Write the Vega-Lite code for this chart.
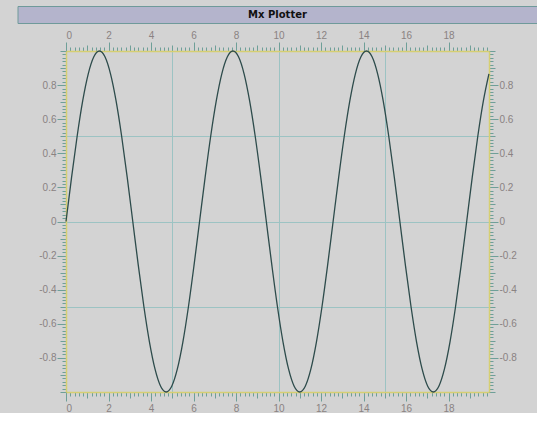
{
  "$schema": "https://vega.github.io/schema/vega-lite/v6.json",
  "background": "#d3d3d3",
  "padding": {"left": 16.5, "top": 5, "right": 0, "bottom": 0},
  "spacing": 28,
  "center": true,
  "bounds": "flush",
  "config": {
    "view": {"stroke": null},
    "axis": {
      "grid": false,
      "tickColor": "#6e9f98",
      "tickWidth": 1,
      "domainColor": "#d6cf72",
      "domainWidth": 1.5,
      "labelColor": "#8a8282",
      "labelFont": "Liberation Sans",
      "labelFontSize": 10,
      "gridColor": "#9cc3c3",
      "gridWidth": 1,
      "gridOpacity": 1
    }
  },
  "vconcat": [
    {
      "width": 520,
      "height": 17,
      "view": {"fill": "#b4b4cc", "stroke": "#6f9a9a", "strokeWidth": 1},
      "data": {"values": [{"name": "Mx Plotter"}]},
      "mark": {"type": "text", "font": "DejaVu Sans", "fontWeight": "bold", "fontSize": 10, "color": "#111111"},
      "encoding": {"text": {"field": "name", "type": "nominal"}}
    },
    {
      "width": 423,
      "height": 341,
      "data": {"values": [
        {"x": 0, "y": 0}, {"x": 0.262, "y": 0.259}, {"x": 0.524, "y": 0.5}, {"x": 0.785, "y": 0.707},
        {"x": 1.047, "y": 0.866}, {"x": 1.309, "y": 0.966}, {"x": 1.571, "y": 1}, {"x": 1.833, "y": 0.966},
        {"x": 2.094, "y": 0.866}, {"x": 2.356, "y": 0.707}, {"x": 2.618, "y": 0.5}, {"x": 2.88, "y": 0.259},
        {"x": 3.142, "y": 0}, {"x": 3.403, "y": -0.259}, {"x": 3.665, "y": -0.5}, {"x": 3.927, "y": -0.707},
        {"x": 4.189, "y": -0.866}, {"x": 4.451, "y": -0.966}, {"x": 4.712, "y": -1}, {"x": 4.974, "y": -0.966},
        {"x": 5.236, "y": -0.866}, {"x": 5.498, "y": -0.707}, {"x": 5.76, "y": -0.5}, {"x": 6.021, "y": -0.259},
        {"x": 6.283, "y": 0}, {"x": 6.545, "y": 0.259}, {"x": 6.807, "y": 0.5}, {"x": 7.069, "y": 0.707},
        {"x": 7.33, "y": 0.866}, {"x": 7.592, "y": 0.966}, {"x": 7.854, "y": 1}, {"x": 8.116, "y": 0.966},
        {"x": 8.378, "y": 0.866}, {"x": 8.639, "y": 0.707}, {"x": 8.901, "y": 0.5}, {"x": 9.163, "y": 0.259},
        {"x": 9.425, "y": 0}, {"x": 9.687, "y": -0.259}, {"x": 9.948, "y": -0.5}, {"x": 10.21, "y": -0.707},
        {"x": 10.472, "y": -0.866}, {"x": 10.734, "y": -0.966}, {"x": 10.996, "y": -1}, {"x": 11.257, "y": -0.966},
        {"x": 11.519, "y": -0.866}, {"x": 11.781, "y": -0.707}, {"x": 12.043, "y": -0.5}, {"x": 12.305, "y": -0.259},
        {"x": 12.566, "y": 0}, {"x": 12.828, "y": 0.259}, {"x": 13.09, "y": 0.5}, {"x": 13.352, "y": 0.707},
        {"x": 13.614, "y": 0.866}, {"x": 13.875, "y": 0.966}, {"x": 14.137, "y": 1}, {"x": 14.399, "y": 0.966},
        {"x": 14.661, "y": 0.866}, {"x": 14.923, "y": 0.707}, {"x": 15.184, "y": 0.5}, {"x": 15.446, "y": 0.259},
        {"x": 15.708, "y": 0}, {"x": 15.97, "y": -0.259}, {"x": 16.232, "y": -0.5}, {"x": 16.493, "y": -0.707},
        {"x": 16.755, "y": -0.866}, {"x": 17.017, "y": -0.966}, {"x": 17.279, "y": -1}, {"x": 17.541, "y": -0.966},
        {"x": 17.802, "y": -0.866}, {"x": 18.064, "y": -0.707}, {"x": 18.326, "y": -0.5}, {"x": 18.588, "y": -0.259},
        {"x": 18.85, "y": 0}, {"x": 19.111, "y": 0.259}, {"x": 19.373, "y": 0.5}, {"x": 19.635, "y": 0.707},
        {"x": 19.897, "y": 0.866}
      ]},
      "layer": [
        {
          "mark": {"type": "line", "opacity": 0},
          "encoding": {
            "x": {"field": "x", "type": "quantitative", "title": null, "scale": {"domain": [0, 19.9], "nice": false, "zero": false},
                  "axis": {"orient": "bottom", "values": [5, 10, 15], "grid": true, "ticks": false, "labels": false, "domain": false}},
            "y": {"field": "y", "type": "quantitative", "title": null, "scale": {"domain": [-1, 1], "nice": false, "zero": false},
                  "axis": {"orient": "left", "values": [-0.5, 0, 0.5], "grid": true, "ticks": false, "labels": false, "domain": false}}
          }
        },
        {
          "mark": {"type": "line", "opacity": 0},
          "encoding": {
            "x": {"field": "x", "type": "quantitative", "title": null,
                  "axis": {"orient": "bottom", "tickCount": 100, "tickSize": 4, "labels": false, "domain": false}},
            "y": {"field": "y", "type": "quantitative", "title": null,
                  "axis": {"orient": "left", "tickCount": 100, "tickSize": 4, "labels": false, "domain": false}}
          }
        },
        {
          "mark": {"type": "line", "opacity": 0},
          "encoding": {
            "x": {"field": "x", "type": "quantitative", "title": null,
                  "axis": {"orient": "top", "tickCount": 100, "tickSize": 4, "labels": false, "domain": false}},
            "y": {"field": "y", "type": "quantitative", "title": null,
                  "axis": {"orient": "right", "tickCount": 100, "tickSize": 4, "labels": false, "domain": false}}
          }
        },
        {
          "mark": {"type": "line", "opacity": 0},
          "encoding": {
            "x": {"field": "x", "type": "quantitative", "title": null,
                  "axis": {"orient": "bottom", "tickCount": 20, "tickSize": 6, "labels": false, "domain": false}},
            "y": {"field": "y", "type": "quantitative", "title": null,
                  "axis": {"orient": "left", "tickCount": 20, "tickSize": 6, "labels": false, "domain": false}}
          }
        },
        {
          "mark": {"type": "line", "opacity": 0},
          "encoding": {
            "x": {"field": "x", "type": "quantitative", "title": null,
                  "axis": {"orient": "top", "tickCount": 20, "tickSize": 6, "labels": false, "domain": false}},
            "y": {"field": "y", "type": "quantitative", "title": null,
                  "axis": {"orient": "right", "tickCount": 20, "tickSize": 6, "labels": false, "domain": false}}
          }
        },
        {
          "mark": {"type": "line", "opacity": 0},
          "encoding": {
            "x": {"field": "x", "type": "quantitative", "title": null,
                  "axis": {"orient": "top", "values": [0, 2, 4, 6, 8, 10, 12, 14, 16, 18], "tickSize": 9, "labelPadding": 2}},
            "y": {"field": "y", "type": "quantitative", "title": null,
                  "axis": {"orient": "right", "values": [-0.8, -0.6, -0.4, -0.2, 0, 0.2, 0.4, 0.6, 0.8], "tickSize": 9, "labelPadding": 1,
                           "labelExpr": "toString(round(datum.value * 10) / 10)"}}
          }
        },
        {
          "mark": {"type": "line", "color": "#2d4b4b", "strokeWidth": 1.3, "interpolate": "monotone"},
          "encoding": {
            "x": {"field": "x", "type": "quantitative", "title": null,
                  "axis": {"orient": "bottom", "values": [0, 2, 4, 6, 8, 10, 12, 14, 16, 18], "tickSize": 9, "labelPadding": 2}},
            "y": {"field": "y", "type": "quantitative", "title": null,
                  "axis": {"orient": "left", "values": [-0.8, -0.6, -0.4, -0.2, 0, 0.2, 0.4, 0.6, 0.8], "tickSize": 9, "labelPadding": 1,
                           "labelExpr": "toString(round(datum.value * 10) / 10)"}}
          }
        }
      ],
      "resolve": {"axis": {"x": "independent", "y": "independent"}}
    }
  ]
}
